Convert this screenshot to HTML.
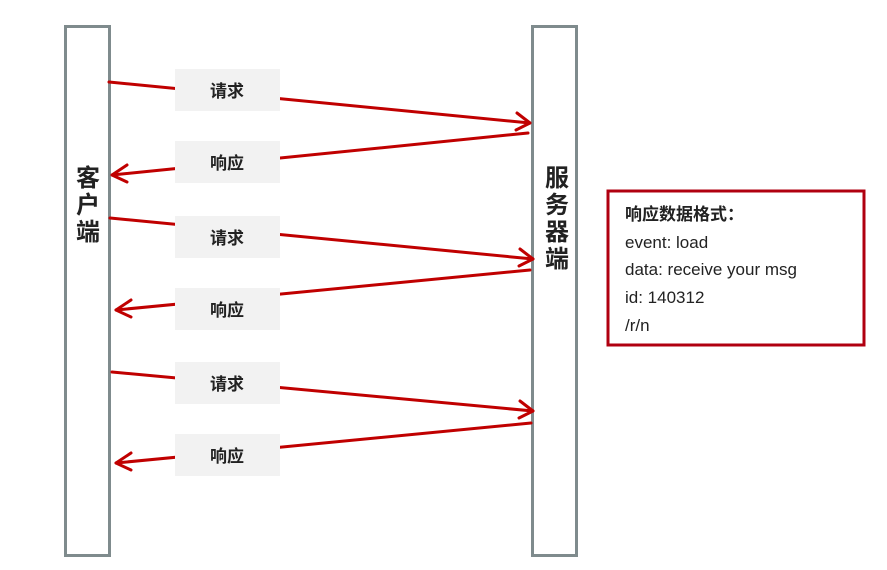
<!DOCTYPE html>
<html><head><meta charset="utf-8"><style>
html,body{margin:0;padding:0;background:#fff;}
svg{display:block;}
text{font-family:"Liberation Sans","Noto Sans CJK SC",sans-serif;fill:#222;}
</style></head><body>
<svg width="887" height="570" viewBox="0 0 887 570" xmlns="http://www.w3.org/2000/svg">
<rect x="65.5" y="26.5" width="44" height="529" fill="#fff" stroke="#7f8b8d" stroke-width="3"/>
<rect x="532.5" y="26.5" width="44" height="529" fill="#fff" stroke="#7f8b8d" stroke-width="3"/>
<g font-size="24" text-anchor="middle" font-weight="bold">
<text x="88" y="186">客</text><text x="88" y="213">户</text><text x="88" y="240">端</text>
<text x="557" y="186">服</text><text x="557" y="213">务</text><text x="557" y="240">器</text><text x="557" y="267">端</text>
</g>
<g stroke="#c00000" stroke-width="3" fill="none" stroke-linecap="round" stroke-linejoin="round">
<line x1="109" y1="82" x2="530" y2="123"/><polyline points="517,113 530,123 516,130"/>
<line x1="528" y1="133" x2="112" y2="175"/><polyline points="127,165 112,175 127,182"/>
<line x1="110" y1="218" x2="533" y2="259"/><polyline points="520,249 533,259 519,266"/>
<line x1="530" y1="270" x2="116" y2="310"/><polyline points="131,300 116,310 131,317"/>
<line x1="112" y1="372" x2="533" y2="411"/><polyline points="520,401 533,411 519,418"/>
<line x1="531" y1="423" x2="116" y2="463"/><polyline points="131,453 116,463 131,470"/>
</g>
<g fill="#f2f2f2">
<rect x="175" y="69" width="105" height="42"/><rect x="175" y="141" width="105" height="42"/>
<rect x="175" y="216" width="105" height="42"/><rect x="175" y="288" width="105" height="42"/>
<rect x="175" y="362" width="105" height="42"/><rect x="175" y="434" width="105" height="42"/>
</g>
<g font-size="17" text-anchor="middle" font-weight="bold">
<text x="227" y="97">请求</text><text x="227" y="169">响应</text>
<text x="227" y="244">请求</text><text x="227" y="316">响应</text>
<text x="227" y="390">请求</text><text x="227" y="462">响应</text>
</g>
<rect x="608" y="191" width="256" height="154" fill="#fff" stroke="#b00010" stroke-width="3"/>
<g font-size="17">
<text x="625" y="220" font-weight="bold">响应数据格式：</text>
<text x="625" y="248">event: load</text>
<text x="625" y="275">data: receive your msg</text>
<text x="625" y="303">id: 140312</text>
<text x="625" y="331">/r/n</text>
</g>
</svg>
</body></html>
